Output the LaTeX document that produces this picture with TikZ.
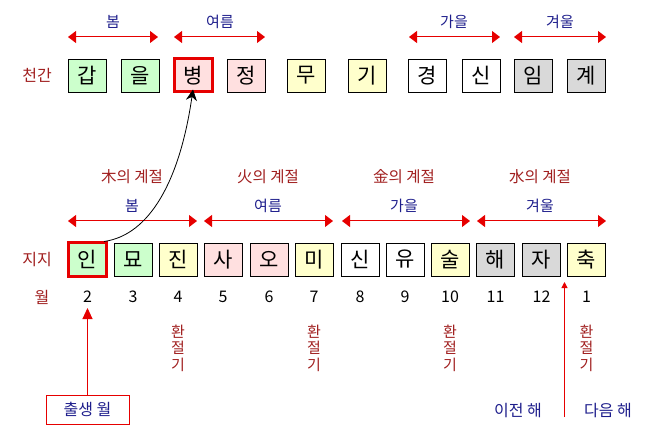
\documentclass[tikz,border=0pt]{standalone}
\usepackage{fontspec}
\setmainfont{Noto Sans CJK KR}
\usetikzlibrary{arrows.meta}
\definecolor{cgreen}{RGB}{204,255,204}
\definecolor{cpink}{RGB}{255,224,224}
\definecolor{cyellow}{RGB}{255,255,204}
\definecolor{cgray}{RGB}{217,217,217}
\definecolor{dred}{RGB}{160,30,30}
\definecolor{navy}{RGB}{30,30,140}
\definecolor{ared}{RGB}{230,0,0}
\tikzset{
  cell/.style={draw=black, line width=0.9pt, minimum width=38pt, minimum height=33pt, inner sep=0pt, font=\fontsize{21}{21}\selectfont},
  hl/.style={draw=ared, line width=3pt},
  rowlab/.style={text=dred, font=\fontsize{16}{16}\selectfont},
  seas/.style={text=navy, font=\fontsize{15}{15}\selectfont},
  elem/.style={text=dred, font=\fontsize{15.5}{15.5}\selectfont},
  mon/.style={font=\fontsize{16}{16}\selectfont},
  seasarrow/.style={ared, line width=1pt, {Triangle[length=8pt,width=12pt]}-{Triangle[length=8pt,width=12pt]}},
  hwan/.style={text=dred, align=center, font=\fontsize{15}{16.5}\selectfont},
  note/.style={text=navy, font=\fontsize{16}{16}\selectfont},
}
\begin{document}
\begin{tikzpicture}[x=1pt,y=-1pt]
\useasboundingbox (0,0) rectangle (654,441);
% top row
\node[rowlab] (tg) at (37,75.5) {천간};
\node[cell,fill=cgreen] (t1) at (87,75.5) {갑};
\node[cell,fill=cgreen] (t2) at (140,75.5) {을};
\node[cell,fill=cpink,hl] (t3) at (193,75.5) {병};
\node[cell,fill=cpink] (t4) at (246.5,75.5) {정};
\node[cell,fill=cyellow] (t5) at (306.5,75.5) {무};
\node[cell,fill=cyellow] (t6) at (367,75.5) {기};
\node[cell,fill=white] (t7) at (427.5,75.5) {경};
\node[cell,fill=white] (t8) at (481,75.5) {신};
\node[cell,fill=cgray] (t9) at (533,75.5) {임};
\node[cell,fill=cgray] (t10) at (586.5,75.5) {계};
% top seasons
\coordinate (ta1) at (68,37); \coordinate (ta2) at (158,37);
\coordinate (ta3) at (174,37); \coordinate (ta4) at (265,37);
\coordinate (ta5) at (409,37); \coordinate (ta6) at (500,37);
\coordinate (ta7) at (514,37); \coordinate (ta8) at (606,37);
\draw[seasarrow] (ta1) -- (ta2);
\draw[seasarrow] (ta3) -- (ta4);
\draw[seasarrow] (ta5) -- (ta6);
\draw[seasarrow] (ta7) -- (ta8);
\node[seas] (ts1) at (113,22) {봄};
\node[seas] (ts2) at (220,22) {여름};
\node[seas] (ts3) at (454,22) {가을};
\node[seas] (ts4) at (560,22) {겨울};
% element labels
\node[elem] (e1) at (132,177) {木의 계절};
\node[elem] (e2) at (268,177) {火의 계절};
\node[elem] (e3) at (404,177) {金의 계절};
\node[elem] (e4) at (540,177) {水의 계절};
% bottom seasons
\coordinate (ba1) at (68,221); \coordinate (ba2) at (197,221);
\coordinate (ba3) at (204,221); \coordinate (ba4) at (333,221);
\coordinate (ba5) at (342,221); \coordinate (ba6) at (470,221);
\coordinate (ba7) at (477,221); \coordinate (ba8) at (606,221);
\draw[seasarrow] (ba1) -- (ba2);
\draw[seasarrow] (ba3) -- (ba4);
\draw[seasarrow] (ba5) -- (ba6);
\draw[seasarrow] (ba7) -- (ba8);
\node[seas] (bs1) at (132,206) {봄};
\node[seas] (bs2) at (268,206) {여름};
\node[seas] (bs3) at (404,206) {가을};
\node[seas] (bs4) at (540,206) {겨울};
% bottom row
\node[rowlab] (jj) at (37,260) {지지};
\node[cell,fill=cgreen,hl] (b1) at (87.5,259.5) {인};
\node[cell,fill=cgreen] (b2) at (133,259.5) {묘};
\node[cell,fill=cyellow] (b3) at (178,259.5) {진};
\node[cell,fill=cpink] (b4) at (223,259.5) {사};
\node[cell,fill=cpink] (b5) at (269,259.5) {오};
\node[cell,fill=cyellow] (b6) at (314,259.5) {미};
\node[cell,fill=white] (b7) at (360,259.5) {신};
\node[cell,fill=white] (b8) at (405,259.5) {유};
\node[cell,fill=cyellow] (b9) at (450,259.5) {술};
\node[cell,fill=cgray] (b10) at (495.5,259.5) {해};
\node[cell,fill=cgray] (b11) at (541.5,259.5) {자};
\node[cell,fill=cyellow] (b12) at (586.5,259.5) {축};
% months
\node[rowlab] (wl) at (42,297) {월};
\node[mon] (m1) at (87.5,297) {2};
\node[mon] (m2) at (133,297) {3};
\node[mon] (m3) at (178,297) {4};
\node[mon] (m4) at (223,297) {5};
\node[mon] (m5) at (269,297) {6};
\node[mon] (m6) at (314,297) {7};
\node[mon] (m7) at (360,297) {8};
\node[mon] (m8) at (405,297) {9};
\node[mon] (m9) at (450,297) {10};
\node[mon] (m10) at (495.5,297) {11};
\node[mon] (m11) at (541.5,297) {12};
\node[mon] (m12) at (586.5,297) {1};
% transition labels
\node[hwan] (h1) at (178,348) {환\\절\\기};
\node[hwan] (h2) at (314,348) {환\\절\\기};
\node[hwan] (h3) at (450,348) {환\\절\\기};
\node[hwan] (h4) at (586.5,348) {환\\절\\기};
% birth month
\node[draw=ared, line width=0.9pt, minimum width=83pt, minimum height=29pt, inner sep=0pt, note] (bm) at (87.5,409.5) {출생 월};
\coordinate (bmt) at (87.5,308);
\draw[ared, line width=1pt, -{Triangle[length=11pt,width=10pt]}] (bm.north) -- (bmt);
% year boundary
\coordinate (yb) at (564.5,417);
\coordinate (yt) at (564.5,282);
\draw[ared, line width=1pt, -{Triangle[length=6pt,width=6pt]}] (yb) -- (yt);
\node[note] (prev) at (518,411) {이전 해};
\node[note] (next) at (608,411) {다음 해};
% black curved arrow
\draw[black, line width=0.8pt, -{Stealth[length=11pt,width=11pt]}] ([xshift=-4pt]b1.north east) .. controls (150,235) and (180,180) .. ([yshift=4pt]t3.south);
\end{tikzpicture}
\end{document}
